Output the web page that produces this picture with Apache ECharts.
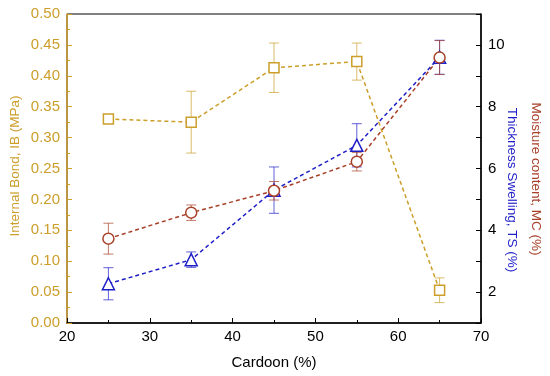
<!DOCTYPE html>
<html><head><meta charset="utf-8">
<script src="https://cdn.jsdelivr.net/npm/echarts@6/dist/echarts.min.js"></script>
<style>html,body{margin:0;padding:0;background:#fff}#c{width:550px;height:376px}</style>
</head><body><div id="c"></div>
<script>
const cardoon = [25, 35, 45, 55, 65];
const ibVal = [0.330, 0.325, 0.413, 0.423, 0.053];
const ibErr = [0.005, 0.050, 0.040, 0.030, 0.020];
const mcVal = [3.73, 4.57, 5.28, 6.22, 9.59];
const mcErr = [0.50, 0.25, 0.30, 0.30, 0.55];
const tsVal = [2.27, 3.05, 5.30, 6.75, 9.60];
const tsErr = [0.52, 0.25, 0.75, 0.70, 0.55];
const leftTicks = [0, 0.05, 0.10, 0.15, 0.20, 0.25, 0.30, 0.35, 0.40, 0.45, 0.50];
const rightLabels = [2, 4, 6, 8, 10];

const GOLD = '#CC9E2A', RED = '#A8402A', BLUE = '#1F1FC8';
const FONT = '"Liberation Sans", Arial, sans-serif';

function pts(vals) { return cardoon.map((x, i) => [x, vals[i]]); }
function errData(vals, errs) { return cardoon.map((x, i) => [x, vals[i] - errs[i], vals[i] + errs[i]]); }
function errSeries(vals, errs, color, yIdx) {
  return {
    type: 'custom', yAxisIndex: yIdx, z: 1, silent: true,
    data: errData(vals, errs),
    renderItem: function (params, api) {
      const lo = api.coord([api.value(0), api.value(1)]);
      const hi = api.coord([api.value(0), api.value(2)]);
      const w = 5;
      const st = { stroke: color, lineWidth: 1, opacity: 0.7 };
      return { type: 'group', children: [
        { type: 'line', shape: { x1: lo[0], y1: lo[1], x2: hi[0], y2: hi[1] }, style: st },
        { type: 'line', shape: { x1: lo[0] - w, y1: lo[1], x2: lo[0] + w, y2: lo[1] }, style: st },
        { type: 'line', shape: { x1: hi[0] - w, y1: hi[1], x2: hi[0] + w, y2: hi[1] }, style: st }
      ]};
    }
  };
}
function lineSeries(vals, color, sym, size, yIdx) {
  return {
    type: 'line', yAxisIndex: yIdx, z: 3, data: pts(vals),
    symbol: sym, symbolSize: size, showSymbol: true,
    lineStyle: { color: color, width: 1.5, type: [4, 3] },
    itemStyle: { color: '#fff', borderColor: color, borderWidth: 1.5 },
    animation: false
  };
}

const chart = echarts.init(document.getElementById('c'));
chart.setOption({
  animation: false,
  grid: { left: 67, right: 69, top: 14, bottom: 53, show: true, borderColor: '#000', borderWidth: 1 },
  xAxis: {
    type: 'value', min: 20, max: 70, interval: 10,
    axisLine: { show: true, lineStyle: { color: '#000', width: 1.5 } },
    axisTick: { inside: true, length: 5, lineStyle: { color: '#000' } },
    minorTick: { show: true, splitNumber: 2, length: 3, lineStyle: { color: '#000' } },
    splitLine: { show: false },
    axisLabel: { color: '#000', fontSize: 15, fontFamily: FONT, margin: 6 }
  },
  yAxis: [{
    type: 'value', min: 0, max: 0.5, interval: 0.05, position: 'left',
    axisLine: { show: true, lineStyle: { color: GOLD, width: 1.5 } },
    axisTick: { inside: true, length: 5, lineStyle: { color: GOLD } },
    minorTick: { show: true, splitNumber: 2, length: 3, lineStyle: { color: GOLD } },
    splitLine: { show: false },
    axisLabel: { color: GOLD, fontSize: 15, fontFamily: FONT, margin: 7,
      formatter: v => leftTicks.some(t => Math.abs(t - v) < 1e-9) ? v.toFixed(2) : '' }
  }, {
    type: 'value', min: 1, max: 11, interval: 1, position: 'right',
    axisLine: { show: true, lineStyle: { color: '#000', width: 1.5 } },
    axisTick: { inside: true, length: 5, lineStyle: { color: '#000' } },
    splitLine: { show: false },
    axisLabel: { color: '#000', fontSize: 15, fontFamily: FONT, margin: 7,
      formatter: v => rightLabels.includes(Math.round(v)) && Math.abs(v - Math.round(v)) < 1e-9 ? String(Math.round(v)) : '' }
  }],
  graphic: [
    { type: 'text', x: 15, y: 166, rotation: Math.PI / 2,
      style: { text: 'Internal Bond, IB (MPa)', fill: GOLD, font: '13.5px ' + FONT, align: 'center', verticalAlign: 'middle' } },
    { type: 'text', x: 512, y: 190, rotation: -Math.PI / 2,
      style: { text: 'Thickness Swelling, TS (%)', fill: BLUE, font: '13.5px ' + FONT, align: 'center', verticalAlign: 'middle' } },
    { type: 'text', x: 536, y: 179, rotation: -Math.PI / 2,
      style: { text: 'Moisture content, MC (%)', fill: RED, font: '13.5px ' + FONT, align: 'center', verticalAlign: 'middle' } },
    { type: 'text', x: 274, y: 363,
      style: { text: 'Cardoon (%)', fill: '#000', font: '15px ' + FONT, align: 'center', verticalAlign: 'middle' } }
  ],
  series: [
    errSeries(ibVal, ibErr, GOLD, 0),
    errSeries(tsVal, tsErr, BLUE, 1),
    errSeries(mcVal, mcErr, RED, 1),
    lineSeries(ibVal, GOLD, 'rect', 10, 0),
    lineSeries(tsVal, BLUE, 'triangle', 12, 1),
    lineSeries(mcVal, RED, 'circle', 11, 1)
  ]
});
</script></body></html>
